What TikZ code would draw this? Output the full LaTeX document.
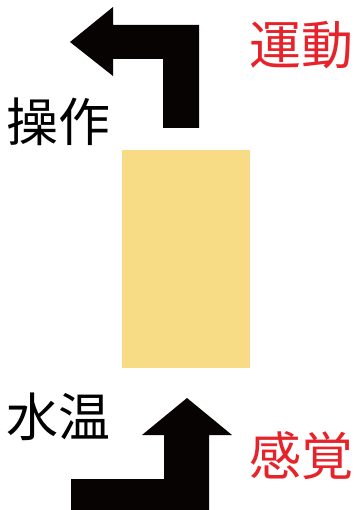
\documentclass[tikz,border=0pt]{standalone}
\usepackage{fontspec}
\usepackage{xcolor}
\usepackage{tikz}
\newfontfamily\jpfont{Noto Sans CJK JP}
\definecolor{waterbox}{HTML}{F7DC85}
\definecolor{senseRed}{HTML}{E6222A}
\definecolor{arrowBlack}{HTML}{070303}
\tikzstyle{label} = [inner sep=0pt, font=\jpfont\fontsize{52}{52}\selectfont, text=black]
\tikzstyle{redlabel} = [label, text=senseRed]
\tikzstyle{bigarrow} = [fill=arrowBlack, draw=none]

\begin{document}
\begin{tikzpicture}[x=1pt, y=-1pt]
    \useasboundingbox (0,0) rectangle (354,510);
    % Box
    \fill[waterbox] (122,150) rectangle (250,368);
    % Nodes
    \node (operate) [label] at (58,122) {操作};
    \node (motion) [redlabel] at (301,45) {運動};
    \node (temp) [label] at (58,417) {水温};
    \node (sense) [redlabel] at (301,456) {感覚};
    % Arrows
    \fill[bigarrow] (163,128) -- (199,128) -- (199,25) -- (113,25) -- (113,7)
        -- (70,42) -- (113,76) -- (113,59) -- (163,59) -- cycle;
    \fill[bigarrow] (71,510) -- (71,479) -- (164,479) -- (164,435) -- (142,435)
        -- (187,398) -- (232,435) -- (209,435) -- (209,510) -- cycle;
\end{tikzpicture}
\end{document}
